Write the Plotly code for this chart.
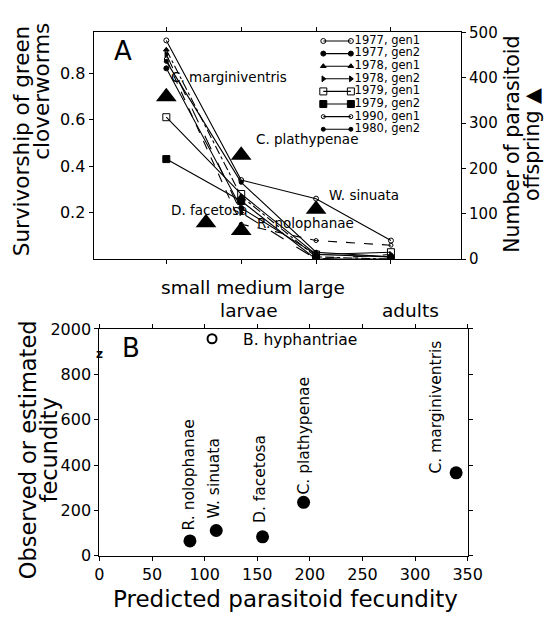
import plotly.graph_objects as go

W, H = 555, 626
def px(x): return x / W
def py(y): return 1 - y / H

FONT = "DejaVu Sans"

# ---------------- Panel A data ----------------
stage_pos = [1, 2, 3, 4]            # small, medium, large, adults
series_names = ["1977, gen1", "1977, gen2", "1978, gen1", "1978, gen2",
                "1979, gen1", "1979, gen2", "1990, gen1", "1980, gen2"]
surv_1977_g1 = [0.94, 0.34, 0.26, 0.08]
surv_1977_g2 = [0.82, 0.22, 0.02, 0.01]
surv_1978_g1 = [0.90, 0.27, 0.01, 0.00]
surv_1978_g2 = [0.88, 0.20, 0.00, 0.02]
surv_1979_g1 = [0.61, 0.28, 0.02, 0.03]
surv_1979_g2 = [0.43, 0.25, 0.00, 0.00]
surv_1990_g1 = [0.86, 0.15, 0.08, 0.06]
surv_1980_g2 = [0.85, 0.33, 0.03, 0.01]
survival = [surv_1977_g1, surv_1977_g2, surv_1978_g1, surv_1978_g2,
            surv_1979_g1, surv_1979_g2, surv_1990_g1, surv_1980_g2]

para_species = ["C. marginiventris", "D. facetosa", "C. plathypenae", "R. nolophanae", "W. sinuata"]
para_stage = [1, 1.53, 2, 2, 3]
para_offspring = [358, 80, 229, 63, 110]

stage_labels = "small medium large"

# ---------------- Panel B data ----------------
fec_species = ["R. nolophanae", "W. sinuata", "D. facetosa", "C. plathypenae",
               "C. marginiventris", "B. hyphantriae"]
predicted = [86, 111, 155, 194, 339, 107]
observed = [66, 112, 84, 236, 366, 1957]
b_ticks = [0, 200, 400, 600, 800, 1000]
b_ticktext = ["0", "200", "400", "600", "800", "2000"]

def broken(v):  # broken y-axis: values above 1000 drawn 1000 lower
    return v if v <= 1000 else v - 1000

# styles
symbols = ["circle-open", "circle", "triangle-up", "triangle-right",
           "square-open", "square", "circle-open", "circle"]
sizes = [5, 5, 5, 5, 7, 7, 4, 4]
dashes = ["solid", "solid", "dashdot", "longdash", "solid", "solid", "dash", "solid"]

fig = go.Figure()

for name, vals, sym, sz, ds in zip(series_names, survival, symbols, sizes, dashes):
    fig.add_trace(go.Scatter(
        x=stage_pos, y=vals, mode="lines+markers", name=name,
        line=dict(color="black", width=1.1, dash=ds),
        marker=dict(symbol=sym, size=sz, color="black", line=dict(color="black", width=1)),
        xaxis="x", yaxis="y", showlegend=False))

fig.add_trace(go.Scatter(
    x=para_stage, y=para_offspring, mode="markers",
    marker=dict(symbol="triangle-up", size=18, color="black"),
    xaxis="x", yaxis="y2", showlegend=False))

# custom compact legend (drawn through its own small axis)
for i, (name, sym, sz, ds) in enumerate(zip(series_names, symbols, sizes, dashes)):
    fig.add_trace(go.Scatter(
        x=[0.04, 0.26], y=[i, i], mode="lines+markers",
        line=dict(color="black", width=1.1, dash="solid"),
        marker=dict(symbol=sym, size=sz, color="black", line=dict(color="black", width=1)),
        xaxis="x3", yaxis="y4", showlegend=False))
fig.add_trace(go.Scatter(
    x=[0.29] * len(series_names), y=list(range(len(series_names))),
    mode="text", text=series_names, textposition="middle right",
    textfont=dict(family=FONT, size=11.5, color="black"),
    xaxis="x3", yaxis="y4", showlegend=False))

# Panel B points
sp_filled = [i for i, v in enumerate(observed) if v <= 1000]
fig.add_trace(go.Scatter(
    x=[predicted[i] for i in sp_filled], y=[broken(observed[i]) for i in sp_filled],
    mode="markers", marker=dict(symbol="circle", size=13, color="black"),
    xaxis="x2", yaxis="y3", showlegend=False))
sp_open = [i for i, v in enumerate(observed) if v > 1000]
fig.add_trace(go.Scatter(
    x=[predicted[i] for i in sp_open], y=[broken(observed[i]) for i in sp_open],
    mode="markers", marker=dict(symbol="circle-open", size=9, color="black", line=dict(width=2)),
    xaxis="x2", yaxis="y3", showlegend=False))

ann = []
def A(**kw):
    base = dict(showarrow=False, xanchor="center", yanchor="middle")
    base.update(kw)
    ann.append(base)

# Panel A labels
a_label_pos = {"C. marginiventris": (1.03, 402), "C. plathypenae": (2.17, 265),
               "W. sinuata": (3.15, 142), "D. facetosa": (1.03, 108),
               "R. nolophanae": (2.18, 80)}
for sp in para_species:
    xx, yy = a_label_pos[sp]
    A(x=xx, y=yy, xref="x", yref="y2", text=sp, xanchor="left",
      font=dict(family=FONT, size=13.5, color="black"))
A(x=0.42, y=458, xref="x", yref="y2", text="A", font=dict(family=FONT, size=26, color="black"))

# stage labels under panel A
A(x=px(257), y=py(287), xref="paper", yref="paper", text=stage_labels,
  font=dict(family=FONT, size=18.5, color="black"))
A(x=px(253), y=py(311), xref="paper", yref="paper", text="larvae",
  font=dict(family=FONT, size=18.5, color="black"))
A(x=px(421), y=py(311), xref="paper", yref="paper", text="adults",
  font=dict(family=FONT, size=18.5, color="black"))

# axis titles panel A
A(x=px(18), y=py(136), xref="paper", yref="paper", text="Survivorship of green",
  textangle=-90, font=dict(family=FONT, size=21.5, color="black"))
A(x=px(38), y=py(12), xref="paper", yref="paper", text="cloverworms",
  textangle=-90, yanchor="top", font=dict(family=FONT, size=21.5, color="black"))
A(x=px(526), y=py(140), xref="paper", yref="paper", text="Number of parasitoid",
  textangle=-90, font=dict(family=FONT, size=20.5, color="black"))
A(x=px(546), y=py(140), xref="paper", yref="paper", text="offspring ▲",
  textangle=-90, font=dict(family=FONT, size=20.5, color="black"))

# Panel B labels
b_label_pos = {"R. nolophanae": (85.5, 103), "W. sinuata": (109, 154), "D. facetosa": (152, 138),
               "C. plathypenae": (194.5, 262), "C. marginiventris": (319, 352)}
for sp in fec_species:
    if sp in b_label_pos:
        xx, yy = b_label_pos[sp]
        A(x=xx, y=yy, xref="x2", yref="y3", text=sp, textangle=-90, yanchor="bottom",
          font=dict(family=FONT, size=15.5, color="black"))
A(x=135, y=953, xref="x2", yref="y3", text="B. hyphantriae", xanchor="left",
  font=dict(family=FONT, size=15.5, color="black"))
A(x=30, y=915, xref="x2", yref="y3", text="B", font=dict(family=FONT, size=26, color="black"))
A(x=0, y=889, xref="x2", yref="y3", text="<b>z</b>", font=dict(family=FONT, size=12, color="black"))

# axis titles panel B
A(x=px(291), y=py(608), xref="paper", yref="paper", text="Predicted parasitoid fecundity",
  font=dict(family=FONT, size=23, color="black"))
A(x=px(24), y=py(455), xref="paper", yref="paper", text="Observed or estimated",
  textangle=-90, font=dict(family=FONT, size=22.5, color="black"))
A(x=px(46), y=py(455), xref="paper", yref="paper", text="fecundity",
  textangle=-90, font=dict(family=FONT, size=22.5, color="black"))

axis_notf = dict(showline=True, linecolor="black", linewidth=1.2, showgrid=False,
                 zeroline=False, ticks="outside", ticklen=4, tickcolor="black")

fig.update_layout(
    width=W, height=H, margin=dict(l=0, r=0, t=0, b=0),
    paper_bgcolor="white", plot_bgcolor="white",
    font=dict(family=FONT, color="black"),
    xaxis=dict(domain=[px(92), px(473)], range=[0.03, 4.935], tickvals=stage_pos,
               showticklabels=False, mirror="ticks", anchor="y", **axis_notf),
    yaxis=dict(domain=[py(258), py(24)], range=[0, 0.975], tickvals=[0.2, 0.4, 0.6, 0.8],
               ticktext=["0.2", "0.4", "0.6", "0.8"], anchor="x",
               tickfont=dict(family=FONT, size=16, color="black"), **axis_notf),
    yaxis2=dict(overlaying="y", side="right", range=[0, 500],
                tickvals=[0, 100, 200, 300, 400, 500], anchor="x",
                tickfont=dict(family=FONT, size=15, color="black"), **axis_notf),
    xaxis2=dict(domain=[px(98), px(480)], range=[0, 350],
                tickvals=[0, 50, 100, 150, 200, 250, 300, 350], mirror="ticks", anchor="y3",
                tickfont=dict(family=FONT, size=16, color="black"), **axis_notf),
    yaxis3=dict(domain=[py(564), py(330)], range=[0, 1000], tickvals=b_ticks, ticktext=b_ticktext,
                mirror="ticks", anchor="x2",
                tickfont=dict(family=FONT, size=16, color="black"), **axis_notf),
    xaxis3=dict(domain=[px(325), px(455)], range=[0, 1], visible=False, anchor="y4"),
    yaxis4=dict(domain=[py(130.5), py(26.5)], range=[7.5, -0.5], visible=False, anchor="x3"),
    annotations=ann,
)

fig.write_html("out.html", config={"displayModeBar": False},
               post_script="document.body.style.margin='0';document.body.style.overflow='hidden';")
